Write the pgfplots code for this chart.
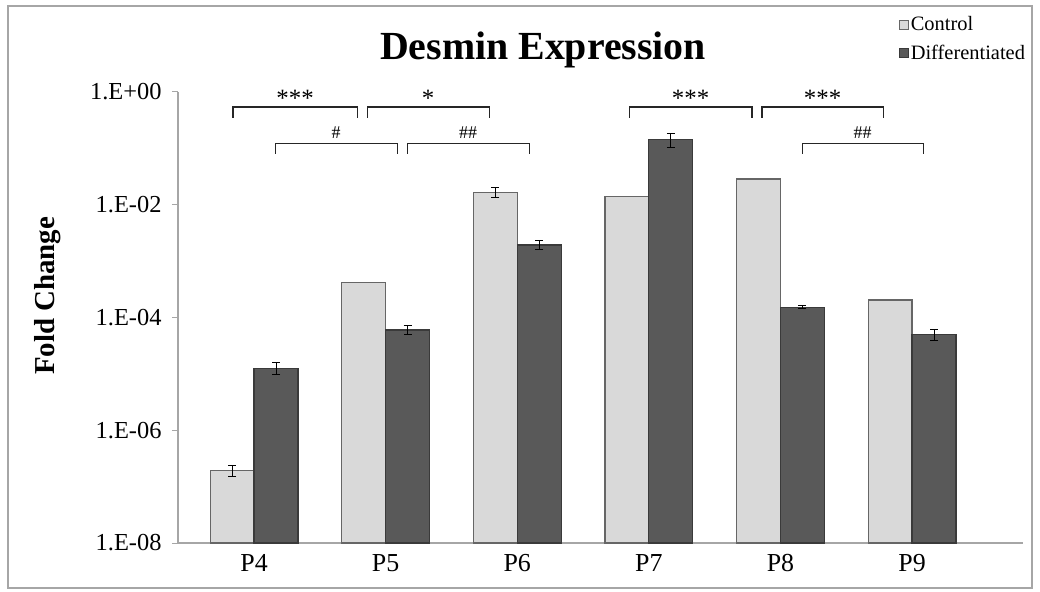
\documentclass[border=0pt]{standalone}
\usepackage{pgfplots}
\pgfplotsset{compat=1.18}
\usepackage{fontspec}
\setmainfont{Liberation Serif}
\definecolor{ctrl}{HTML}{D9D9D9}
\definecolor{ctrlb}{HTML}{666666}
\definecolor{diff}{HTML}{595959}
\definecolor{diffb}{HTML}{3A3A3A}
\definecolor{axgray}{HTML}{A6A6A6}
\tikzset{brk/.style={black!85, line width=1.1bp}, sig/.style={font=\fontsize{25}{27}\selectfont, anchor=center}, hsig/.style={font=\fontsize{18}{20}\selectfont, anchor=center}}
\begin{document}
\begin{tikzpicture}[x=1bp,y=1bp]
\useasboundingbox (-178,-49) rectangle (862,543);
\draw[axgray, line width=1.5bp] (-170,-45) rectangle (854,537);
\begin{axis}[
  at={(0,0)}, anchor=south west,
  width=845bp, height=451bp, scale only axis,
  clip=false,
  ymode=log, ymin=1e-8, ymax=1, log origin=infty,
  xmin=-0.578, xmax=5.843,
  ybar, bar width=0.334,
  axis lines*=left,
  axis line style={axgray, line width=1.2bp},
  xtick={0,1,2,3,4,5}, xticklabels={P4,P5,P6,P7,P8,P9},
  x tick style={draw=none},
  xticklabel style={font=\fontsize{26}{28}\selectfont, yshift=-2bp},
  ytick={1e-8,1e-6,1e-4,1e-2,1},
  yticklabels={1.E-08,1.E-06,1.E-04,1.E-02,1.E+00},
  yminorticks=false,
  y tick style={axgray, line width=1bp},
  tick align=outside, major tick length=6bp,
  yticklabel style={font=\fontsize{24.5}{26}\selectfont, xshift=-7bp},
  ylabel={\bfseries Fold Change},
  ylabel style={font=\fontsize{29}{31}\selectfont, at={(axis description cs:-0.154,0.548)}, anchor=center},
  title={\bfseries Desmin Expression},
  title style={font=\fontsize{40}{44}\selectfont, at={(axis description cs:0.432,1.080)}, anchor=center},
  legend style={at={(rel axis cs:0.853,1.172)}, anchor=north west, draw=none, fill=none,
     font=\fontsize{20.5}{23}\selectfont, row sep=9bp, inner sep=0pt},
  legend cell align=left,
  legend image code/.code={\draw[#1, line width=0.8bp] (0bp,-4.5bp) rectangle (9bp,4.5bp);},
]
\addplot[fill=ctrl, draw=ctrlb, line width=1.2bp, bar shift=-0.167] coordinates {
 (0,1.94e-7) (1,4.2e-4) (2,1.66e-2) (3,1.39e-2) (4,2.87e-2) (5,2.04e-4)};
\addlegendentry{Control}
\addplot[fill=diff, draw=diffb, line width=1.2bp, bar shift=0.167] coordinates {
 (0,1.26e-5) (1,6.0e-5) (2,1.94e-3) (3,0.145) (4,1.52e-4) (5,5.0e-5)};
\addlegendentry{Differentiated}
\addplot[forget plot, draw=none, fill=none, bar shift=-0.167,
  error bars/.cd, y dir=both, y explicit,
  error bar style={black, line width=1bp},
  error mark options={rotate=90, mark size=4bp, black, line width=1bp}]
  coordinates {(0,1.94e-7) +- (0,0.45e-7) (2,1.66e-2) +- (0,0.34e-2)};
\addplot[forget plot, draw=none, fill=none, bar shift=0.167,
  error bars/.cd, y dir=both, y explicit,
  error bar style={black, line width=1bp},
  error mark options={rotate=90, mark size=4bp, black, line width=1bp}]
  coordinates {(0,1.26e-5) +- (0,0.3e-5) (1,6.0e-5) +- (0,1.1e-5) (2,1.94e-3) +- (0,0.36e-3)
   (3,0.145) +- (0,0.04) (4,1.52e-4) +- (0,0.08e-4) (5,5.0e-5) +- (0,1.1e-5)};
% significance brackets, row 1
\draw[brk] (axis cs:-0.160,0.346) -- (axis cs:-0.160,0.542) -- (axis cs:0.783,0.542) -- (axis cs:0.783,0.346);
\node[sig] at (axis cs:0.312,0.78) {***};
\draw[brk] (axis cs:0.859,0.346) -- (axis cs:0.859,0.542) -- (axis cs:1.786,0.542) -- (axis cs:1.786,0.346);
\node[sig] at (axis cs:1.322,0.78) {*};
\draw[brk] (axis cs:2.850,0.346) -- (axis cs:2.850,0.542) -- (axis cs:3.784,0.542) -- (axis cs:3.784,0.346);
\node[sig] at (axis cs:3.317,0.78) {***};
\draw[brk] (axis cs:3.860,0.346) -- (axis cs:3.860,0.542) -- (axis cs:4.780,0.542) -- (axis cs:4.780,0.346);
\node[sig] at (axis cs:4.320,0.78) {***};
% row 2
\draw[brk] (axis cs:0.160,0.0796) -- (axis cs:0.160,0.120) -- (axis cs:1.087,0.120) -- (axis cs:1.087,0.0796);
\node[hsig] at (axis cs:0.623,0.190) {\#};
\draw[brk] (axis cs:1.163,0.0796) -- (axis cs:1.163,0.120) -- (axis cs:2.090,0.120) -- (axis cs:2.090,0.0796);
\node[hsig] at (axis cs:1.626,0.190) {\#\#};
\draw[brk] (axis cs:4.164,0.0796) -- (axis cs:4.164,0.120) -- (axis cs:5.084,0.120) -- (axis cs:5.084,0.0796);
\node[hsig] at (axis cs:4.624,0.190) {\#\#};
\end{axis}
\end{tikzpicture}
\end{document}
